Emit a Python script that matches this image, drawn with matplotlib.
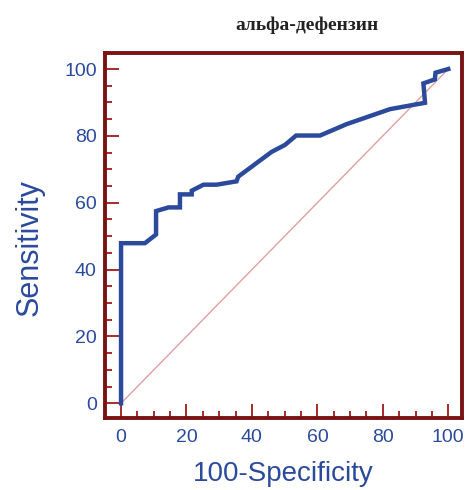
import matplotlib
matplotlib.use('Agg')
import matplotlib.pyplot as plt
from matplotlib.ticker import MultipleLocator

# ROC curve points
fpr = [0, 0, 7.3, 10.7, 10.7, 14.5, 18.0, 18.0, 21.6, 21.6, 25.2, 29.2, 35.3, 35.8,
       46.0, 50.1, 53.5, 60.8, 68.9, 82.2, 92.9, 92.4, 95.9, 96.1, 100]
tpr = [0, 47.9, 47.9, 50.5, 57.5, 58.6, 58.6, 62.5, 62.5, 63.6, 65.4, 65.4, 66.4, 67.8,
       75.2, 77.3, 80.1, 80.1, 83.5, 88.0, 89.9, 95.7, 96.9, 98.9, 100]
diag = [0, 100]

title = 'альфа-дефензин'
blue = '#2b4a9c'
maroon = '#7a1414'
tick_red = '#a82a2a'

fig = plt.figure(figsize=(4.69, 4.90), dpi=100)
ax = fig.add_axes([0.2239, 0.1476, 0.7605, 0.7436])

ax.plot(diag, diag, color='#e0a0a0', lw=1.0, zorder=2)
ax.plot(fpr, tpr, color=blue, lw=3.2, solid_joinstyle='miter', zorder=3)

ax.set_xlim(-4.9, 104.1)
ax.set_ylim(-4.3, 104.7)
ax.xaxis.set_minor_locator(MultipleLocator(5))
ax.yaxis.set_minor_locator(MultipleLocator(5))
ax.set_xticks([0, 20, 40, 60, 80, 100])
ax.set_yticks([0, 20, 40, 60, 80, 100])

for s in ax.spines.values():
    s.set_color(maroon)
    s.set_linewidth(2.8)

ax.tick_params(which='major', direction='in', length=10, width=1.4, color=tick_red,
               labelsize=14, labelcolor=blue)
ax.tick_params(axis='x', which='major', pad=8)
ax.tick_params(axis='y', which='major', pad=6)
ax.tick_params(which='minor', direction='in', length=5, width=1.4, color=tick_red)
for t in ax.get_xticklabels() + ax.get_yticklabels():
    t.set_fontfamily('Liberation Sans')

ax.set_xlabel('100-Specificity', fontsize=20, color=blue, labelpad=11, family='Liberation Sans')
ax.set_ylabel('Sensitivity', fontsize=22, color=blue, family='Liberation Sans')
ax.yaxis.set_label_coords(-0.17, 0.468)

fig.text(307 / 469, 1 - 25 / 490, title, ha='center', va='center', fontsize=14,
         fontweight='bold', family='Liberation Serif', color='#222222')

fig.savefig('out.png', dpi=100)
plt.close(fig)
